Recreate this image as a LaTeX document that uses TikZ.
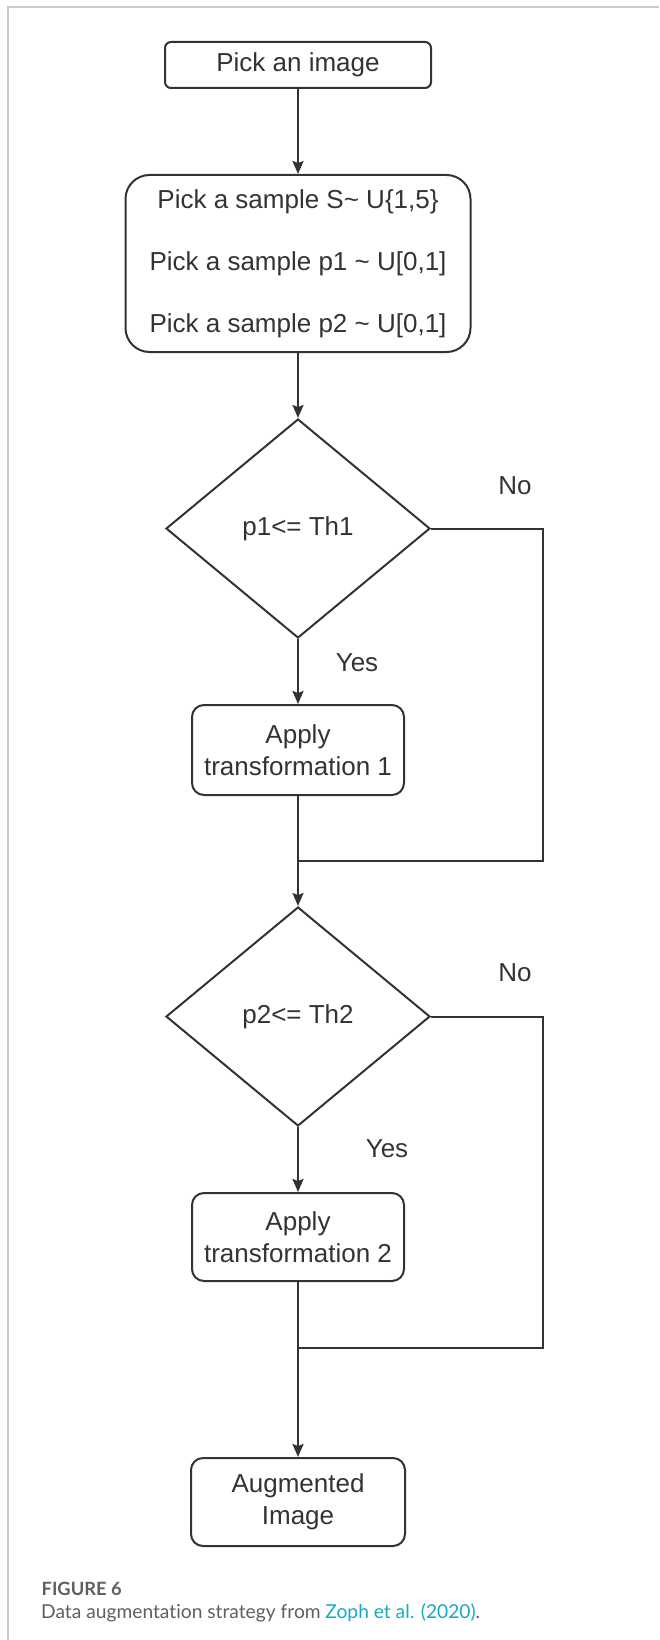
\documentclass[tikz,border=0pt]{standalone}
\usepackage{fontspec}
\setmainfont{Liberation Sans}
\newfontfamily\capfont[RawFeature={-liga}]{Lato}
\usetikzlibrary{arrows.meta,shapes.geometric}
\definecolor{inkgray}{HTML}{333333}
\definecolor{framegray}{HTML}{CCCCCC}
\definecolor{capgray}{HTML}{5F5F5F}
\definecolor{linkteal}{HTML}{17A9C6}

\begin{document}
\begin{tikzpicture}[x=1pt,y=-1pt,
    box/.style={draw=inkgray,line width=2pt,rounded corners=6pt,text=inkgray,align=center,inner sep=0pt,font=\fontsize{26}{32}\selectfont},
    decide/.style={draw=inkgray,line width=2pt,diamond,text=inkgray,minimum width=264pt,minimum height=219pt,inner sep=0pt,font=\fontsize{26}{30}\selectfont},
    flow/.style={draw=inkgray,line width=2pt,-{Stealth[length=13pt,width=11pt,inset=2pt]}},
    wire/.style={draw=inkgray,line width=2pt},
    lab/.style={text=inkgray,font=\fontsize{26}{30}\selectfont}]
    \useasboundingbox (0,0) rectangle (659,1640);
    \draw[framegray,line width=2pt] (659,7.5) -- (7.5,7.5) -- (7.5,1640);

    % boxes and decisions
    \node[box,minimum width=266pt,minimum height=46pt] (pick) at (298,65) {Pick an image};
    \node[box,rounded corners=24pt,minimum width=345pt,minimum height=177pt,font=\fontsize{26}{62}\selectfont] (sample) at (298,263.5)
        {Pick a sample S\textasciitilde{} U\{1,5\}\\Pick a sample p1 \textasciitilde{} U[0,1]\\Pick a sample p2 \textasciitilde{} U[0,1]};
    \node[decide] (dia1) at (298,528.5) {p1<= Th1};
    \node[box,rounded corners=12pt,minimum width=212pt,minimum height=90pt] (apply1) at (298,750) {Apply\\transformation 1};
    \coordinate (join1) at (298,861);
    \coordinate (turn1) at (543,861);
    \node[decide] (dia2) at (298,1016.5) {p2<= Th2};
    \node[box,rounded corners=12pt,minimum width=212pt,minimum height=88pt] (apply2) at (298,1237) {Apply\\transformation 2};
    \coordinate (join2) at (298,1348);
    \coordinate (turn2) at (543,1348);
    \node[box,rounded corners=12pt,minimum width=214pt,minimum height=88pt] (aug) at (298,1502) {Augmented\\Image};

    % labels
    \node[lab] (no1) at (515,486) {No};
    \node[lab] (yes1) at (357,663) {Yes};
    \node[lab] (no2) at (515,973) {No};
    \node[lab] (yes2) at (387,1149) {Yes};

    % connectors
    \draw[flow] (pick) -- (sample);
    \draw[flow] (sample) -- (dia1);
    \draw[flow] (dia1) -- (apply1);
    \draw[wire] (apply1) -- (join1);
    \draw[wire] (dia1.east) -| (turn1) -- (join1);
    \draw[flow] (join1) -- (dia2);
    \draw[flow] (dia2) -- (apply2);
    \draw[wire] (apply2) -- (join2);
    \draw[wire] (dia2.east) -| (turn2) -- (join2);
    \draw[flow] (join2) -- (aug);

    % caption
    \node[anchor=base west,inner sep=0pt,text=capgray,font=\capfont\bfseries\fontsize{18.3}{22}\selectfont] (fig) at (41.5,1595.5) {FIGURE 6};
    \node[anchor=base west,inner sep=0pt,text=capgray,font=\capfont\fontsize{19.2}{22}\selectfont] (cap) at (41,1618)
        {Data augmentation strategy from \textcolor{linkteal}{Zoph et al. (2020)}.};
\end{tikzpicture}
\end{document}
